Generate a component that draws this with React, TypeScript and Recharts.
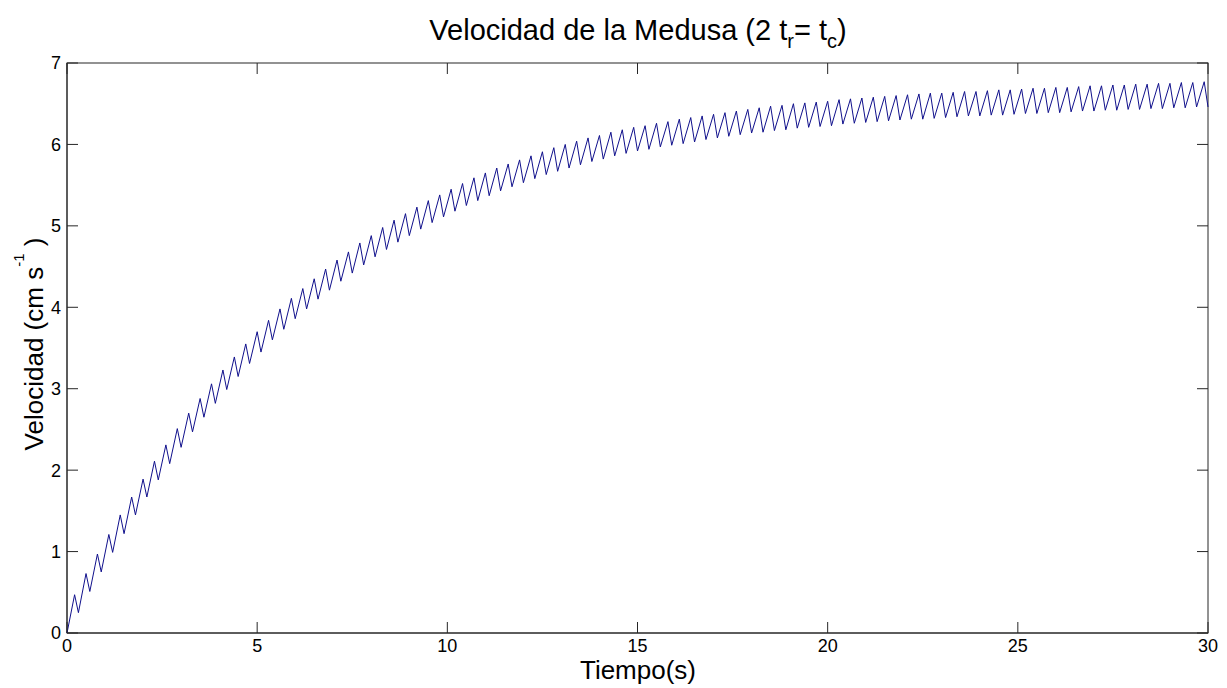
import React from "react";
import { LineChart, Line, XAxis, YAxis, Customized } from "recharts";

// one pulse = contraction (speed rises) then recovery (speed drops)
const CONTRACTION = 0.2;
const PERIOD = 0.3;

// speed at the start of every pulse (t = 0, 0.3, 0.6 ... 30)
const TROUGHS = [
  0, 0.25, 0.51, 0.75, 0.99, 1.22, 1.45, 1.67, 1.88, 2.08, 2.28, 2.47, 2.65, 2.82, 2.99, 3.15, 3.31,
  3.45, 3.6, 3.73, 3.86, 3.98, 4.1, 4.21, 4.32, 4.42, 4.52, 4.62, 4.71, 4.8, 4.88, 4.96, 5.04, 5.11,
  5.18, 5.25, 5.31, 5.37, 5.43, 5.48, 5.53, 5.58, 5.63, 5.67, 5.71, 5.75, 5.79, 5.82, 5.86, 5.89, 5.92,
  5.94, 5.97, 5.99, 6.01, 6.03, 6.06, 6.08, 6.1, 6.12, 6.14, 6.15, 6.17, 6.18, 6.2, 6.21, 6.22, 6.23,
  6.25, 6.26, 6.27, 6.28, 6.29, 6.3, 6.31, 6.31, 6.32, 6.33, 6.34, 6.35, 6.35, 6.36, 6.36, 6.37, 6.38,
  6.38, 6.39, 6.39, 6.4, 6.41, 6.41, 6.42, 6.42, 6.43, 6.43, 6.44, 6.44, 6.45, 6.45, 6.46, 6.46,
];

// speed at the end of every contraction (t = 0.2, 0.5 ... 29.9)
const PEAKS = [
  0.47, 0.73, 0.97, 1.21, 1.45, 1.67, 1.89, 2.11, 2.31, 2.51, 2.7, 2.88, 3.06, 3.23, 3.39, 3.55, 3.7,
  3.84, 3.98, 4.11, 4.23, 4.35, 4.47, 4.58, 4.68, 4.79, 4.88, 4.98, 5.07, 5.15, 5.23, 5.31, 5.38, 5.45,
  5.52, 5.59, 5.65, 5.71, 5.76, 5.81, 5.86, 5.91, 5.96, 6.0, 6.04, 6.08, 6.11, 6.15, 6.18, 6.21, 6.23,
  6.26, 6.28, 6.31, 6.33, 6.35, 6.37, 6.39, 6.41, 6.43, 6.45, 6.47, 6.48, 6.5, 6.51, 6.52, 6.53, 6.55,
  6.56, 6.57, 6.58, 6.59, 6.6, 6.61, 6.62, 6.63, 6.63, 6.64, 6.65, 6.65, 6.66, 6.67, 6.67, 6.68, 6.69,
  6.69, 6.7, 6.7, 6.71, 6.72, 6.72, 6.73, 6.73, 6.74, 6.74, 6.75, 6.75, 6.76, 6.76, 6.77,
];

const X_TICKS = [0, 5, 10, 15, 20, 25, 30];
const Y_TICKS = [0, 1, 2, 3, 4, 5, 6, 7];
const X_DOMAIN = [0, 30];
const Y_DOMAIN = [0, 7];

const W = 1227;
const H = 688;
// plot box, matlab style
const BOX = { left: 67, top: 63, right: 1208, bottom: 633 };
const Y_AXIS_W = 40;
const X_AXIS_H = 40;
const TICK_LEN = 11;

const FONT = "'Liberation Sans', Arial, sans-serif";
const AXIS = "#262626";
const LINE = "#10108c";

const data: { t: number; v: number }[] = [];
TROUGHS.forEach((v, k) => {
  data.push({ t: +(k * PERIOD).toFixed(2), v });
  if (k < PEAKS.length) data.push({ t: +(k * PERIOD + CONTRACTION).toFixed(2), v: PEAKS[k] });
});

const tickStyle = { fontSize: 18, fill: "#000", fontFamily: FONT };

// inward ticks on all four sides + the closed box
function Frame() {
  const bw = BOX.right - BOX.left;
  const bh = BOX.bottom - BOX.top;
  const xs = X_TICKS.map((v) => BOX.left + ((v - X_DOMAIN[0]) / (X_DOMAIN[1] - X_DOMAIN[0])) * bw);
  const ys = Y_TICKS.map((v) => BOX.bottom - ((v - Y_DOMAIN[0]) / (Y_DOMAIN[1] - Y_DOMAIN[0])) * bh);
  return (
    <g stroke={AXIS} strokeWidth={1} fill="none">
      <rect x={BOX.left} y={BOX.top} width={bw} height={bh} />
      {xs.map((x, i) => (
        <g key={"x" + i}>
          <line x1={x} y1={BOX.bottom} x2={x} y2={BOX.bottom - TICK_LEN} />
          <line x1={x} y1={BOX.top} x2={x} y2={BOX.top + TICK_LEN} />
        </g>
      ))}
      {ys.map((y, i) => (
        <g key={"y" + i}>
          <line x1={BOX.left} y1={y} x2={BOX.left + TICK_LEN} y2={y} />
          <line x1={BOX.right} y1={y} x2={BOX.right - TICK_LEN} y2={y} />
        </g>
      ))}
    </g>
  );
}

function Titles() {
  return (
    <g fontFamily={FONT} fill="#000">
      <text x={638} y={40} fontSize={29} textAnchor="middle">
        Velocidad de la Medusa (2 t
        <tspan dy={8} fontSize={20}>r</tspan>
        <tspan dy={-8}>= t</tspan>
        <tspan dy={8} fontSize={20}>c</tspan>
        <tspan dy={-8}>)</tspan>
      </text>
      <text x={638} y={679} fontSize={26} textAnchor="middle">
        Tiempo(s)
      </text>
      <text x={0} y={0} fontSize={26} textAnchor="middle" transform="translate(43 344) rotate(-90)">
        Velocidad (cm s
        <tspan dy={-19} fontSize={15}>-1</tspan>
        <tspan dy={19}> )</tspan>
      </text>
    </g>
  );
}

export default function App() {
  return (
    <div style={{ position: "absolute", left: 0, top: 0, background: "#fff" }}>
      <LineChart
        width={W}
        height={H}
        data={data}
        margin={{
          top: BOX.top,
          right: W - BOX.right,
          bottom: H - BOX.bottom - X_AXIS_H,
          left: BOX.left - Y_AXIS_W,
        }}
      >
        <XAxis
          dataKey="t"
          type="number"
          domain={X_DOMAIN}
          ticks={X_TICKS}
          height={X_AXIS_H}
          tickLine={false}
          tickSize={0}
          tickMargin={6}
          stroke={AXIS}
          tick={tickStyle}
          interval={0}
        />
        <YAxis
          type="number"
          domain={Y_DOMAIN}
          ticks={Y_TICKS}
          width={Y_AXIS_W}
          tickLine={false}
          tickSize={0}
          tickMargin={6}
          stroke={AXIS}
          tick={tickStyle}
          interval={0}
        />
        <Line
          dataKey="v"
          type="linear"
          stroke={LINE}
          strokeWidth={1}
          dot={false}
          isAnimationActive={false}
        />
        <Customized component={Frame} />
        <Customized component={Titles} />
      </LineChart>
    </div>
  );
}
